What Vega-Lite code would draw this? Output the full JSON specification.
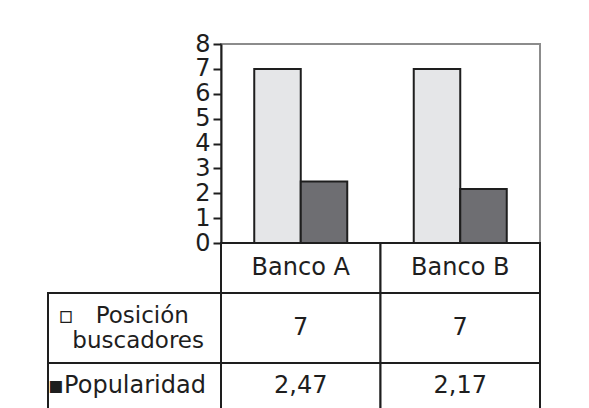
{
  "$schema": "https://vega.github.io/schema/vega-lite/v6.json",
  "padding": {"left": 47, "top": 31, "right": 0, "bottom": 0},
  "background": "white",
  "config": {
    "view": {"stroke": null},
    "font": "DejaVu Sans",
    "locale": {"number": {"decimal": ",", "thousands": ".", "grouping": [3], "currency": ["", " €"]}}
  },
  "datasets": {
    "banks": [
      {"bank": "Banco A", "serie": "Posición buscadores", "valor": 7},
      {"bank": "Banco A", "serie": "Popularidad", "valor": 2.47},
      {"bank": "Banco B", "serie": "Posición buscadores", "valor": 7},
      {"bank": "Banco B", "serie": "Popularidad", "valor": 2.17}
    ]
  },
  "columns": 2,
  "spacing": 0,
  "bounds": "flush",
  "concat": [
    {"width": 173, "height": 199, "data": {"values": []}, "mark": "point"},
    {
      "width": 319, "height": 199,
      "data": {"name": "banks"},
      "view": {"stroke": "#8c8c8c", "strokeWidth": 2},
      "mark": {"type": "bar", "stroke": "#1e1e1e", "strokeWidth": 2},
      "encoding": {
        "x": {"field": "bank", "type": "nominal", "scale": {"paddingInner": 0, "paddingOuter": 0}, "axis": null},
        "xOffset": {"field": "serie", "type": "nominal", "sort": ["Posición buscadores", "Popularidad"], "scale": {"paddingInner": 0, "paddingOuter": 0.715}},
        "y": {"field": "valor", "type": "quantitative", "scale": {"domain": [0, 8], "nice": false},
          "axis": {"values": [0, 1, 2, 3, 4, 5, 6, 7, 8], "title": null, "grid": false, "labelOverlap": false, "labelFlush": false, "domainColor": "#1e1e1e", "domainWidth": 2, "tickColor": "#1e1e1e", "tickWidth": 2, "tickSize": 8, "labelFontSize": 24, "labelColor": "#1e1e1e", "labelPadding": 3}},
        "color": {"field": "serie", "type": "nominal", "scale": {"domain": ["Posición buscadores", "Popularidad"], "range": ["#e5e6e8", "#6e6e72"]}, "legend": null}
      }
    },
    {"width": 173, "height": 50, "data": {"values": []}, "mark": "point"},
    {
      "width": 319, "height": 50,
      "data": {"values": [{"bank": "Banco A"}, {"bank": "Banco B"}]},
      "layer": [
        {"mark": {"type": "rect", "fill": "white", "stroke": "#1e1e1e", "strokeWidth": 2},
         "encoding": {"x": {"field": "bank", "type": "nominal", "scale": {"paddingInner": 0, "paddingOuter": 0}, "axis": null}}},
        {"mark": {"type": "text", "fontSize": 24, "color": "#1e1e1e"},
         "encoding": {"x": {"field": "bank", "type": "nominal", "axis": null}, "text": {"field": "bank"}}}
      ]
    },
    {
      "width": 173, "height": 70,
      "data": {"values": [{"label": "Posición buscadores"}]},
      "layer": [
        {"mark": {"type": "rect", "fill": "white", "stroke": "#1e1e1e", "strokeWidth": 2}, "encoding": {}},
        {"mark": {"type": "text", "fontSize": 23, "color": "#1e1e1e", "lineHeight": 25, "dy": -12, "text": ["▫\u00a0\u00a0\u00a0Posición\u00a0\u00a0\u00a0\u200b", "\u200b\u00a0buscadores"]}, "encoding": {}}
      ]
    },
    {
      "width": 319, "height": 70,
      "data": {"name": "banks"},
      "transform": [{"filter": "datum.serie === 'Posición buscadores'"}],
      "layer": [
        {"mark": {"type": "rect", "fill": "white", "stroke": "#1e1e1e", "strokeWidth": 2},
         "encoding": {"x": {"field": "bank", "type": "nominal", "scale": {"paddingInner": 0, "paddingOuter": 0}, "axis": null}}},
        {"mark": {"type": "text", "fontSize": 24, "color": "#1e1e1e"},
         "encoding": {"x": {"field": "bank", "type": "nominal", "axis": null}, "text": {"field": "valor", "type": "quantitative", "format": "~g"}}}
      ]
    },
    {
      "width": 173, "height": 46,
      "data": {"values": [{"label": "Popularidad"}]},
      "layer": [
        {"mark": {"type": "rect", "fill": "white", "stroke": "#1e1e1e", "strokeWidth": 2}, "encoding": {}},
        {"mark": {"type": "text", "fontSize": 24, "color": "#1e1e1e"}, "encoding": {"text": {"value": "▪Popularidad\u00a0\u00a0\u200b"}}}
      ]
    },
    {
      "width": 319, "height": 46,
      "data": {"name": "banks"},
      "transform": [{"filter": "datum.serie === 'Popularidad'"}],
      "layer": [
        {"mark": {"type": "rect", "fill": "white", "stroke": "#1e1e1e", "strokeWidth": 2},
         "encoding": {"x": {"field": "bank", "type": "nominal", "scale": {"paddingInner": 0, "paddingOuter": 0}, "axis": null}}},
        {"mark": {"type": "text", "fontSize": 24, "color": "#1e1e1e"},
         "encoding": {"x": {"field": "bank", "type": "nominal", "axis": null}, "text": {"field": "valor", "type": "quantitative", "format": "~g"}}}
      ]
    }
  ]
}
